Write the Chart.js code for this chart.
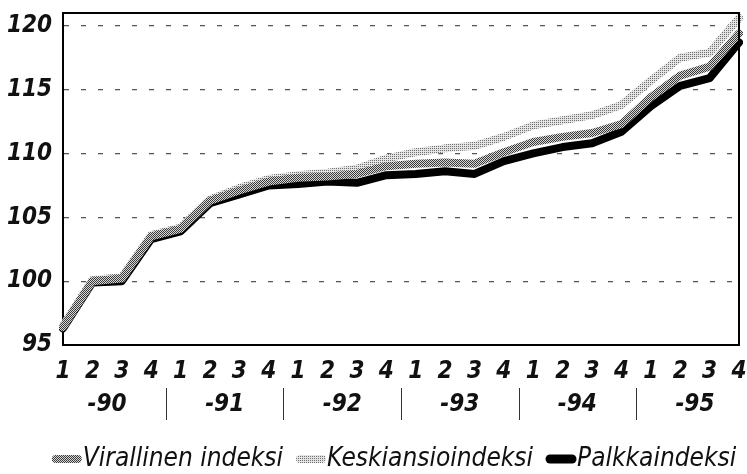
<!DOCTYPE html>
<html>
<head>
<meta charset="utf-8">
<script src="https://cdn.jsdelivr.net/npm/chart.js@4.4.1/dist/chart.umd.min.js"></script>
<style>
  html, body { margin: 0; padding: 0; background: #fff; }
  #wrap { width: 747px; height: 474px; }
</style>
</head>
<body>
<div id="wrap"><canvas id="chart"></canvas></div>
<script>
// neljännekset 1990-1995
const quarters = ['1','2','3','4','1','2','3','4','1','2','3','4','1','2','3','4','1','2','3','4','1','2','3','4'];
const years = ['-90', '-91', '-92', '-93', '-94', '-95'];
const yTicks = [95, 100, 105, 110, 115, 120];

const virallinen = [96.4, 100.0, 100.2, 103.5, 104.1, 106.3, 107.1, 107.8, 108.1, 108.2, 108.4, 109.0,
                    109.2, 109.3, 109.2, 110.1, 110.9, 111.3, 111.6, 112.3, 114.4, 116.1, 116.8, 119.4];
const keskiansio = [96.5, 100.1, 100.3, 103.6, 104.2, 106.4, 107.3, 108.0, 108.3, 108.5, 108.8, 109.6,
                    110.1, 110.4, 110.6, 111.3, 112.2, 112.6, 113.0, 113.8, 115.7, 117.5, 117.9, 120.6];
const palkka     = [96.3, 99.9, 100.0, 103.3, 103.9, 106.1, 106.8, 107.5, 107.6, 107.8, 107.7, 108.3,
                    108.4, 108.6, 108.4, 109.4, 110.0, 110.5, 110.8, 111.7, 113.7, 115.3, 115.9, 118.7];

const FONT = "'DejaVu Sans Condensed', 'DejaVu Sans', sans-serif";

// rasterikuviot (painetun kuvan harmaasävyt)
function halftone(dark, light, darkCount) {
    const c = document.createElement('canvas');
    c.width = 2; c.height = 2;
    const g = c.getContext('2d');
    g.fillStyle = light; g.fillRect(0, 0, 2, 2);
    g.fillStyle = dark;
    g.fillRect(0, 0, 1, 1);
    if (darkCount > 1) g.fillRect(1, 1, 1, 1);
    return g.createPattern(c, 'repeat');
}
const patViral = halftone('#3a3a3a', '#d8d8d8', 2);
const patKeski = halftone('#6e6e6e', '#e4e4e4', 1);

// vuosiotsikot ja erotinviivat x-akselin alle
const yearLabels = {
    id: 'yearLabels',
    afterDraw(chart) {
        const { ctx, scales: { x } } = chart;
        ctx.save();
        ctx.fillStyle = '#111';
        ctx.font = 'italic bold 24px ' + FONT;
        ctx.textAlign = 'center';
        ctx.textBaseline = 'middle';
        years.forEach((yr, k) => {
            const cx = (x.getPixelForValue(4 * k + 1) + x.getPixelForValue(4 * k + 2)) / 2;
            ctx.fillText(yr, cx, 405);
        });
        ctx.strokeStyle = '#333';
        ctx.lineWidth = 1;
        for (let k = 0; k < years.length - 1; k++) {
            const sx = Math.round((x.getPixelForValue(4 * k + 3) + x.getPixelForValue(4 * k + 4)) / 2) + 0.5;
            ctx.beginPath();
            ctx.moveTo(sx, 388);
            ctx.lineTo(sx, 420);
            ctx.stroke();
        }
        ctx.restore();
    }
};

// selite: lyhyt paksu viiva heti tekstin edessä
const legendRow = {
    id: 'legendRow',
    afterDraw(chart) {
        const { ctx } = chart;
        const items = chart.data.datasets;
        ctx.save();
        ctx.font = 'italic 26px ' + FONT;
        ctx.textBaseline = 'middle';
        ctx.fillStyle = '#111';
        const sw = 30, gapIn = 1, gapOut = 13;
        const widths = items.map(d => ctx.measureText(d.label).width);
        const total = widths.reduce((a, w) => a + sw + gapIn + w, 0) + gapOut * (items.length - 1);
        let x = 394 - total / 2;
        const y = 459;
        items.forEach((d, i) => {
            ctx.strokeStyle = d.borderColor;
            ctx.lineCap = 'round';
            ctx.lineWidth = i === 2 ? 9 : 8;
            ctx.beginPath();
            ctx.moveTo(x + 4, y);
            ctx.lineTo(x + sw - 4, y);
            ctx.stroke();
            x += sw + gapIn;
            ctx.fillText(d.label, x, y);
            x += widths[i] + gapOut;
        });
        ctx.restore();
    }
};

// kehys kuvaajan ympäri (ylä- ja oikea reuna)
const frame = {
    id: 'frame',
    afterDatasetsDraw(chart) {
        const { ctx, chartArea: a } = chart;
        ctx.save();
        ctx.strokeStyle = '#000';
        ctx.lineWidth = 2;
        ctx.beginPath();
        ctx.moveTo(a.left, a.top);
        ctx.lineTo(a.right, a.top);
        ctx.lineTo(a.right, a.bottom);
        ctx.stroke();
        ctx.restore();
    }
};

const ctx = document.getElementById('chart').getContext('2d');
new Chart(ctx, {
    type: 'line',
    data: {
        labels: quarters,
        datasets: [
            { label: 'Virallinen indeksi', data: virallinen, borderColor: patViral, backgroundColor: patViral },
            { label: 'Keskiansioindeksi', data: keskiansio, borderColor: patKeski, backgroundColor: patKeski },
            { label: 'Palkkaindeksi', data: palkka, borderColor: '#000', backgroundColor: '#000' }
        ]
    },
    options: {
        responsive: true, maintainAspectRatio: false,
        animation: false,
        layout: { padding: { top: 13, right: 8, left: 0, bottom: 0 } },
        elements: {
            line: { borderWidth: 8, tension: 0, borderJoinStyle: 'round', borderCapStyle: 'round' },
            point: { radius: 0 }
        },
        plugins: {
            tooltip: { enabled: false },
            legend: { display: false }
        },
        scales: {
            x: {
                grid: { display: false },
                border: { color: '#000', width: 2 },
                ticks: { color: '#111', padding: 4, maxRotation: 0, autoSkip: false,
                         font: { family: FONT, size: 24, style: 'italic', weight: 'bold' } },
                afterFit: s => { s.height = 129; s.paddingRight = 0; s.paddingLeft = 0; }
            },
            y: {
                min: 95, max: 121,
                afterBuildTicks: s => { s.ticks = yTicks.map(v => ({ value: v })); },
                grid: { color: c => c.tick.value === 95 ? 'rgba(0,0,0,0)' : '#555', lineWidth: 1.2, drawTicks: false },
                border: { color: '#000', width: 2, dash: [5, 12] },
                ticks: { color: '#111', padding: 11,
                         font: { family: FONT, size: 24, style: 'italic', weight: 'bold' } },
                afterFit: s => { s.width = 63; s.paddingTop = 0; s.paddingBottom = 0; }
            }
        }
    },
    plugins: [yearLabels, legendRow, frame]
});
</script>
</body>
</html>
